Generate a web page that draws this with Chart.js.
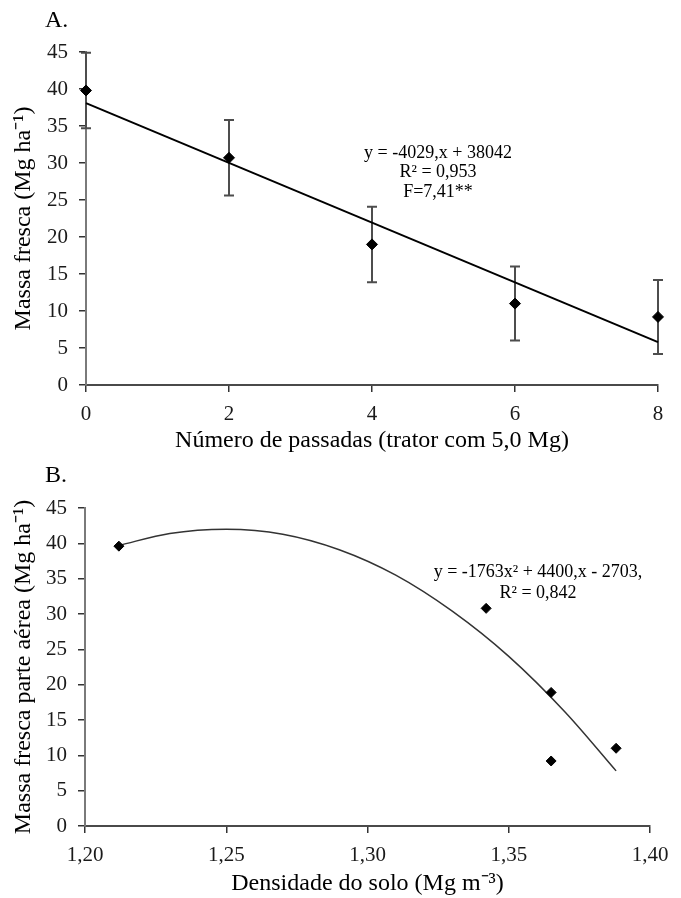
<!DOCTYPE html>
<html lang="pt-BR">
<head>
<meta charset="UTF-8">
<title>Massa fresca</title>
<script src="https://cdn.jsdelivr.net/npm/chart.js@4.4.1/dist/chart.umd.min.js"></script>
<style>
  body { margin: 0; background: #fff; }
  #painel { position: relative; width: 681px; height: 898px; }
  canvas { position: absolute; left: 0; }
  #graficoA { top: 0; }
  #graficoB { top: 455px; }
</style>
</head>
<body>
<div id="painel">
  <canvas id="graficoA" width="681" height="455"></canvas>
  <canvas id="graficoB" width="681" height="443"></canvas>
</div>
<script>
// A. numero de passadas do trator
const passadas = [0, 2, 4, 6, 8];
const massaA = [39.8, 30.7, 19.0, 11.0, 9.2];
const erroA = [5.1, 5.1, 5.1, 5.0, 5.0];
const retaX = [0, 8];
const retaY = [38.1, 5.8];

// B. densidade do solo
const densidade = [1.212, 1.342, 1.365, 1.365, 1.388];
const massaB = [39.6, 30.8, 18.9, 9.2, 11.0];
const curvaX = [1.212, 1.23, 1.25, 1.27, 1.29, 1.31, 1.33, 1.35, 1.37, 1.388];
const curvaY = [39.7, 41.4, 42.0, 41.3, 39.1, 35.5, 30.4, 24.0, 16.1, 7.8];

const ticksY = { min: 0, max: 45, passo: 5 };

const fonteSerif = '"Liberation Serif", "Times New Roman", serif';
Chart.defaults.font.family = fonteSerif;
Chart.defaults.color = "#000";

function pares(xs, ys) {
  return xs.map((x, i) => ({ x, y: ys[i] }));
}

function eixoY(titulo, largura) {
  return {
    type: "linear",
    min: ticksY.min,
    max: ticksY.max,
    ticks: { stepSize: ticksY.passo, padding: 11, color: "#1a1a1a", font: { size: 21 } },
    grid: { drawOnChartArea: false, drawTicks: true, tickLength: 7, color: "#333", lineWidth: 1.5 },
    border: { display: true, color: "#7a7a7a", width: 2 },
    title: { display: true, text: titulo, color: "#000", font: { size: 24 }, padding: { top: 9, bottom: 0 } },
    afterFit(s) { s.width = largura; },
  };
}

function eixoX(titulo, min, max, passo, altura, formato) {
  return {
    type: "linear",
    min,
    max,
    ticks: { stepSize: passo, padding: 10, color: "#1a1a1a", font: { size: 21 }, callback: formato },
    grid: { drawOnChartArea: false, drawTicks: true, tickLength: 7, color: "#333", lineWidth: 1.5 },
    border: { display: true, color: "#4a4a4a", width: 2 },
    title: { display: true, text: titulo, color: "#000", font: { size: 24 }, padding: { top: 0, bottom: 0 } },
    afterFit(s) { s.height = altura; },
  };
}

// barras de erro desenhadas por baixo dos pontos
const barrasErro = {
  id: "barrasErro",
  beforeDatasetsDraw(chart) {
    const { ctx, scales } = chart;
    ctx.save();
    ctx.strokeStyle = "#4d4d4d";
    ctx.lineWidth = 2;
    passadas.forEach((p, i) => {
      const px = scales.x.getPixelForValue(p);
      const topo = scales.y.getPixelForValue(massaA[i] + erroA[i]);
      const base = scales.y.getPixelForValue(massaA[i] - erroA[i]);
      ctx.beginPath();
      ctx.moveTo(px, topo);
      ctx.lineTo(px, base);
      ctx.moveTo(px - 5, topo);
      ctx.lineTo(px + 5, topo);
      ctx.moveTo(px - 5, base);
      ctx.lineTo(px + 5, base);
      ctx.stroke();
    });
    ctx.restore();
  },
};

function textos(id, letra, linhas, cx, y0, passo) {
  return {
    id,
    afterDraw(chart) {
      const ctx = chart.ctx;
      ctx.save();
      ctx.fillStyle = "#000";
      ctx.textBaseline = "middle";
      ctx.font = `24px ${fonteSerif}`;
      ctx.textAlign = "left";
      ctx.fillText(letra, 45, 21);
      ctx.font = `18px ${fonteSerif}`;
      ctx.textAlign = "center";
      linhas.forEach((t, i) => ctx.fillText(t, cx, y0 + i * passo));
      ctx.restore();
    },
  };
}

const semExtras = {
  responsive: false,
  animation: false,
  plugins: { legend: { display: false }, tooltip: { enabled: false } },
};

new Chart(document.getElementById("graficoA"), {
  type: "scatter",
  data: {
    datasets: [
      {
        data: pares(passadas, massaA),
        pointStyle: "rectRot",
        pointRadius: 5.5,
        backgroundColor: "#000",
        borderColor: "#000",
        clip: false,
      },
      {
        data: pares(retaX, retaY),
        showLine: true,
        borderColor: "#000",
        borderWidth: 2,
        pointRadius: 0,
        clip: false,
      },
    ],
  },
  options: {
    ...semExtras,
    layout: { padding: { top: 52, right: 23, left: 0, bottom: 0 } },
    scales: {
      x: eixoX("Número de passadas (trator com 5,0 Mg)", 0, 8, 2, 70),
      y: eixoY("Massa fresca (Mg ha⁻¹)", 86),
    },
  },
  plugins: [barrasErro, textos("textosA", "A.", ["y = -4029,x + 38042", "R² = 0,953", "F=7,41**"], 438, 153, 19.5)],
});

new Chart(document.getElementById("graficoB"), {
  type: "scatter",
  data: {
    datasets: [
      {
        data: pares(densidade, massaB),
        pointStyle: "rectRot",
        pointRadius: 5,
        backgroundColor: "#000",
        borderColor: "#000",
        clip: false,
      },
      {
        data: pares(curvaX, curvaY),
        showLine: true,
        cubicInterpolationMode: "monotone",
        borderColor: "#333",
        borderWidth: 1.5,
        pointRadius: 0,
        clip: false,
      },
    ],
  },
  options: {
    ...semExtras,
    layout: { padding: { top: 53, right: 31, left: 0, bottom: 0 } },
    scales: {
      x: eixoX("Densidade do solo (Mg m⁻³)", 1.2, 1.4, 0.05, 72, (v) => v.toFixed(2).replace(".", ",")),
      y: eixoY("Massa fresca parte aérea (Mg ha⁻¹)", 85),
    },
  },
  plugins: [textos("textosB", "B.", ["y = -1763x² + 4400,x - 2703,", "R² = 0,842"], 538, 117, 21)],
});
</script>
</body>
</html>
